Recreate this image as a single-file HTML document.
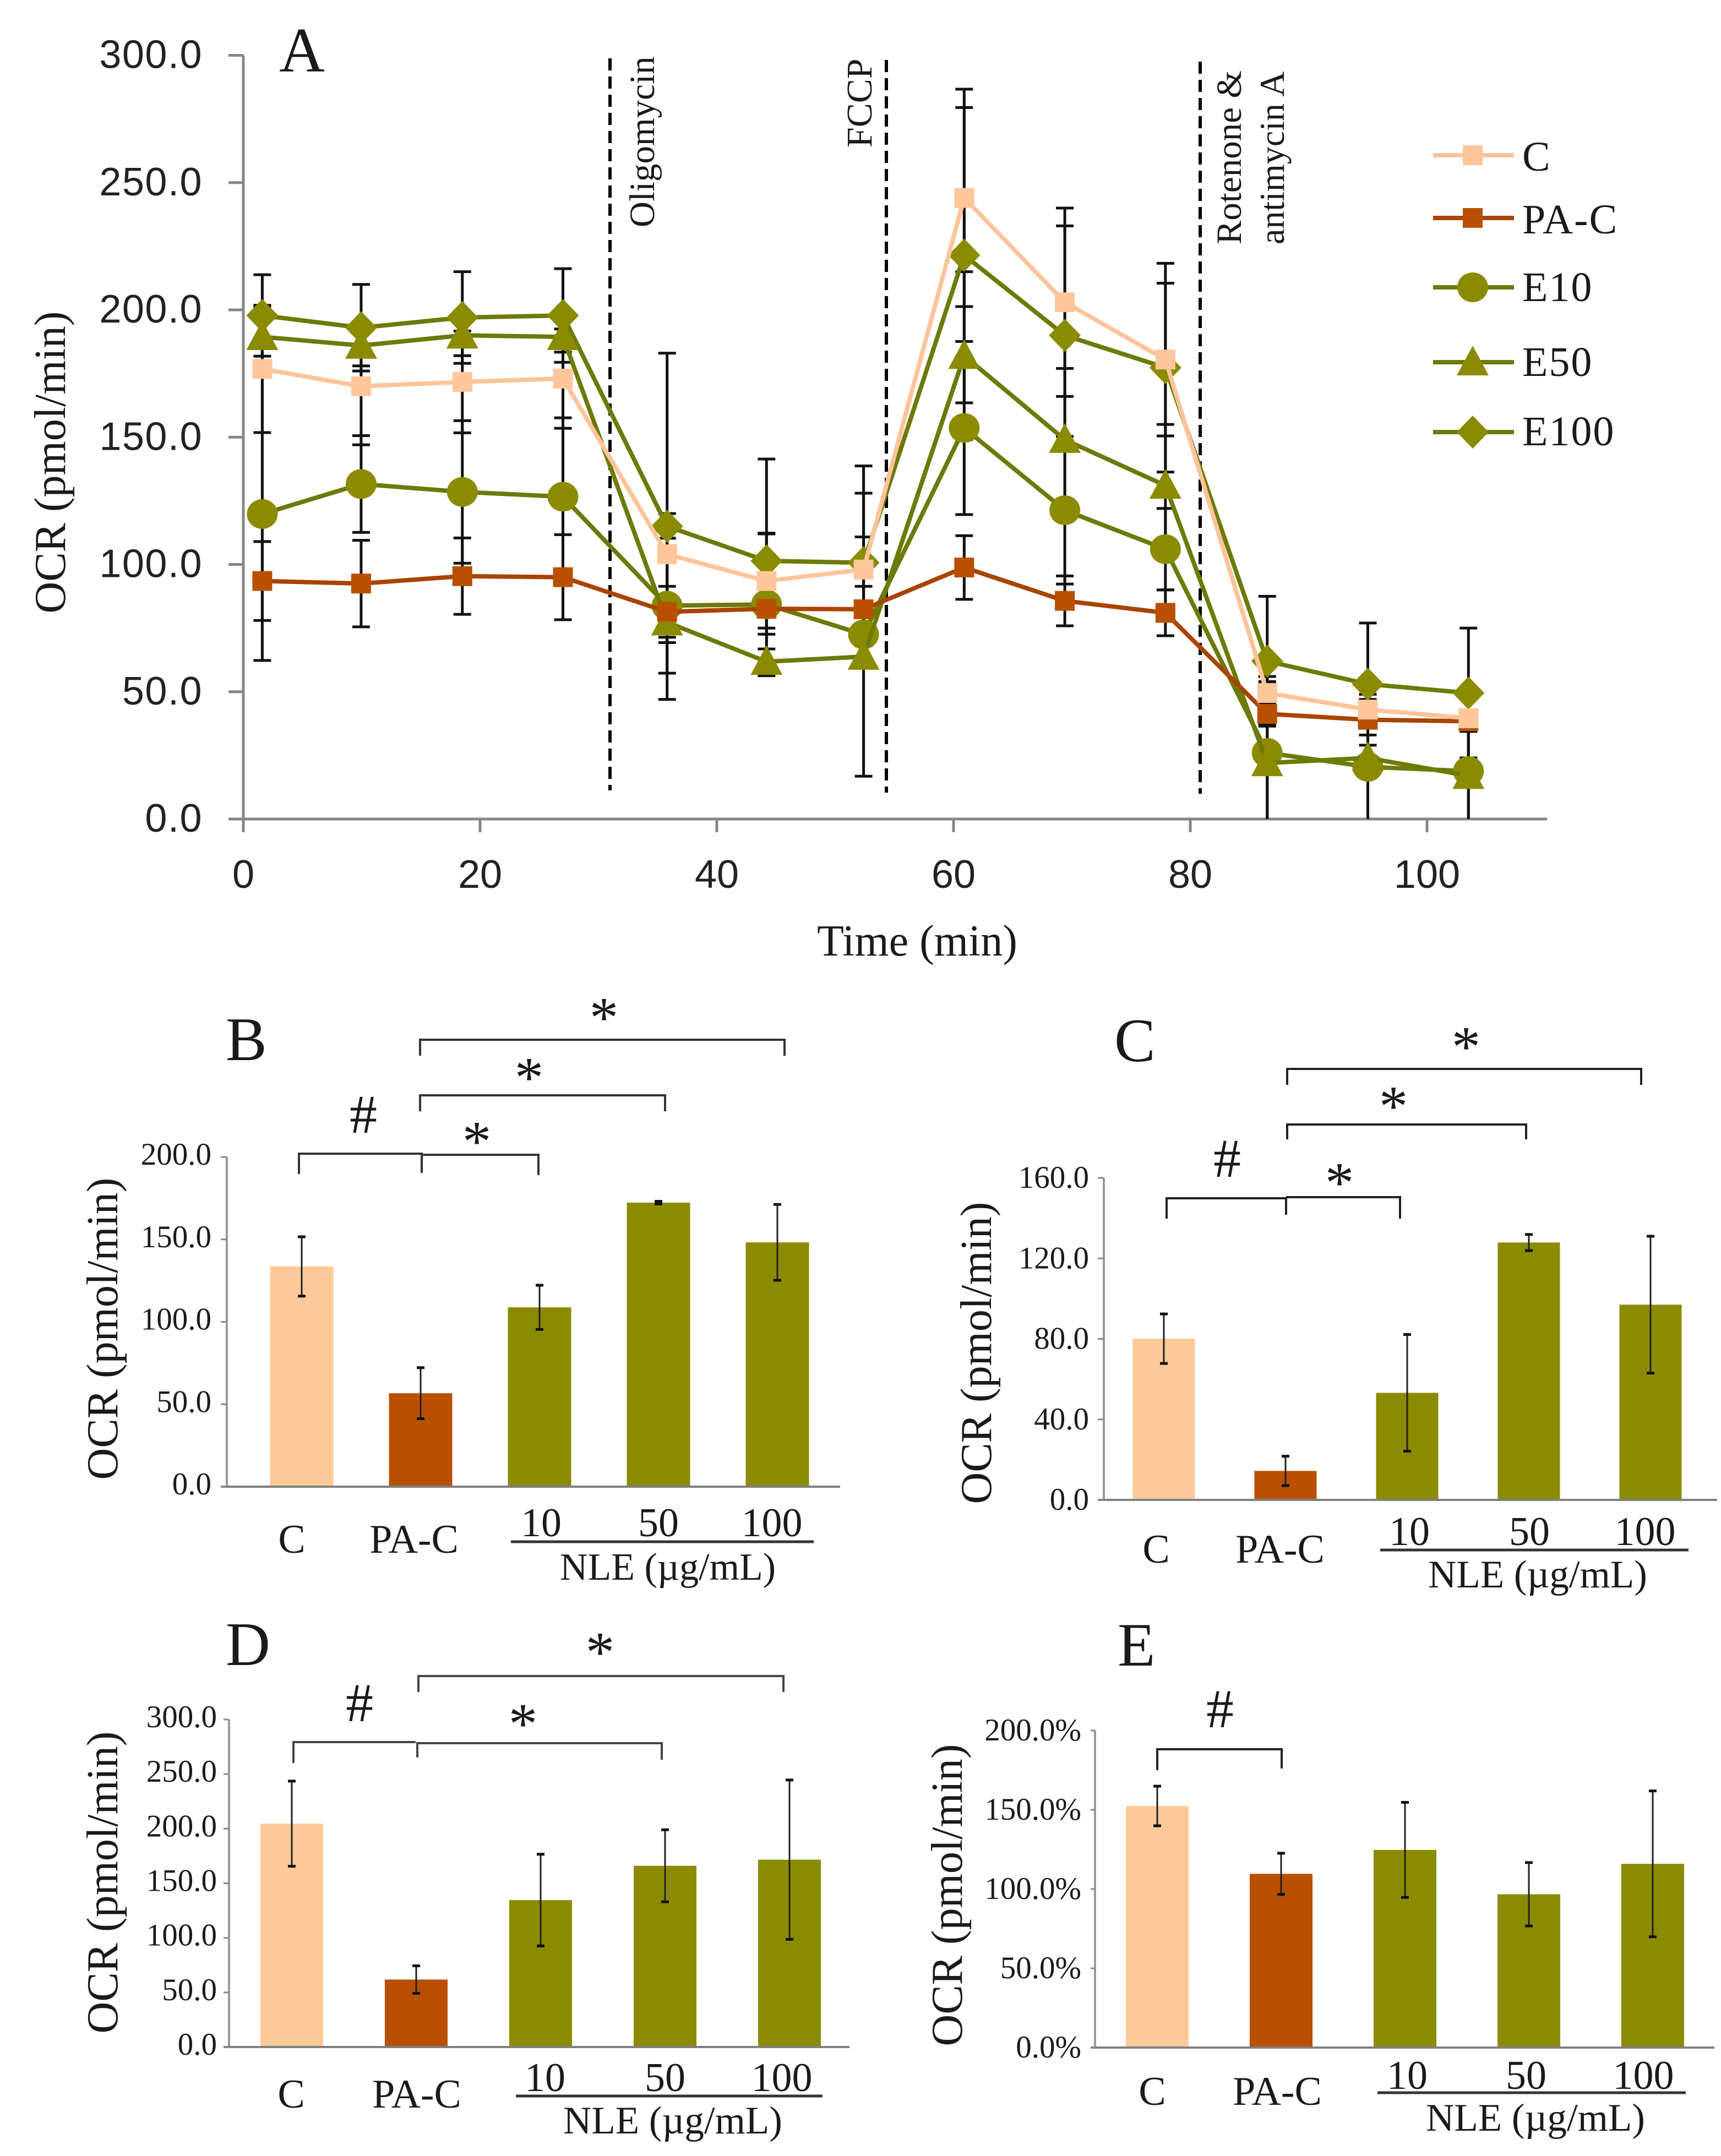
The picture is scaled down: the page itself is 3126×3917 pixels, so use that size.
<!DOCTYPE html>
<html lang="en">
<head>
<meta charset="utf-8">
<title>Oxygen consumption rate figure</title>
<style>
html,body{margin:0;padding:0;background:#fff;}
#figure{display:block;width:3126px;height:3917px;background:#fff;}
.serif{font-family:"Liberation Serif",serif;fill:#1a1a1a;}
.sans{font-family:"Liberation Sans",sans-serif;fill:#222;}
</style>
</head>
<body>
<svg id="figure" xmlns="http://www.w3.org/2000/svg" width="3126" height="3917" viewBox="0 0 3126 3917">
  <rect x="0" y="0" width="3126" height="3917" fill="#fff"/>

  <!-- Panel A static text -->
  <text class="serif" x="507" y="130" font-size="115">A</text>
  <text class="serif" font-size="80" text-anchor="middle" transform="translate(118,840) rotate(-90)">OCR (pmol/min)</text>
  <text class="serif" x="1666" y="1736" font-size="80" text-anchor="middle">Time (min)</text>
  <line x1="1108" y1="106" x2="1108" y2="1436" stroke="#000" stroke-width="6" stroke-dasharray="22 11"/>
  <line x1="1610" y1="109" x2="1610" y2="1440" stroke="#000" stroke-width="6" stroke-dasharray="22 11"/>
  <line x1="2180" y1="112" x2="2180" y2="1442" stroke="#000" stroke-width="6" stroke-dasharray="22 11"/>
  <text class="serif" font-size="65" transform="translate(1188,413) rotate(-90)">Oligomycin</text>
  <text class="serif" font-size="66" transform="translate(1583,268) rotate(-90)">FCCP</text>
  <text class="serif" font-size="65" transform="translate(2254,444) rotate(-90)">Rotenone &amp;</text>
  <text class="serif" font-size="64" transform="translate(2332,444) rotate(-90)">antimycin A</text>

  <!-- Panel B static parts -->
  <text class="serif" x="410" y="1926" font-size="112">B</text>
  <text class="serif" font-size="80" text-anchor="middle" transform="translate(213,2414) rotate(-90)">OCR (pmol/min)</text>
  <g fill="none" stroke="#333" stroke-width="4">
    <path d="M543 2133V2096H766V2131"/>
    <path d="M766 2098H978V2135"/>
    <path d="M763 2019V1990H1208V2019"/>
    <path d="M763 1918V1889H1425V1918"/>
  </g>
  <text class="serif" x="660" y="2058" font-size="100" text-anchor="middle">#</text>
  <text class="serif" x="866" y="2109" font-size="105" text-anchor="middle">*</text>
  <text class="serif" x="961" y="1993" font-size="105" text-anchor="middle">*</text>
  <text class="serif" x="1097" y="1884" font-size="105" text-anchor="middle">*</text>
  <text class="serif" x="530" y="2821" font-size="74" text-anchor="middle">C</text>
  <text class="serif" x="752" y="2821" font-size="74" text-anchor="middle">PA-C</text>
  <text class="serif" x="983" y="2791" font-size="74" text-anchor="middle">10</text>
  <text class="serif" x="1196" y="2791" font-size="74" text-anchor="middle">50</text>
  <text class="serif" x="1402" y="2791" font-size="74" text-anchor="middle">100</text>
  <line x1="928" y1="2801" x2="1478" y2="2801" stroke="#333" stroke-width="5"/>
  <text class="serif" x="1213" y="2870" font-size="70" text-anchor="middle">NLE (µg/mL)</text>

  <!-- Panel C static parts -->
  <text class="serif" x="2024" y="1928" font-size="112">C</text>
  <text class="serif" font-size="80" text-anchor="middle" transform="translate(1800,2458) rotate(-90)">OCR (pmol/min)</text>
  <g fill="none" stroke="#222" stroke-width="4">
    <path d="M2119 2214V2177H2336V2207"/>
    <path d="M2336 2175H2543V2214"/>
    <path d="M2338 2070V2043H2772V2070"/>
    <path d="M2338 1971V1942H2981V1971"/>
  </g>
  <text class="serif" x="2229" y="2138" font-size="100" text-anchor="middle">#</text>
  <text class="serif" x="2433" y="2184" font-size="105" text-anchor="middle">*</text>
  <text class="serif" x="2531" y="2045" font-size="105" text-anchor="middle">*</text>
  <text class="serif" x="2663" y="1937" font-size="105" text-anchor="middle">*</text>
  <text class="serif" x="2100" y="2839" font-size="74" text-anchor="middle">C</text>
  <text class="serif" x="2325" y="2839" font-size="74" text-anchor="middle">PA-C</text>
  <text class="serif" x="2560" y="2807" font-size="74" text-anchor="middle">10</text>
  <text class="serif" x="2778" y="2807" font-size="74" text-anchor="middle">50</text>
  <text class="serif" x="2988" y="2807" font-size="74" text-anchor="middle">100</text>
  <line x1="2507" y1="2816" x2="3067" y2="2816" stroke="#333" stroke-width="5"/>
  <text class="serif" x="2793" y="2884" font-size="71" text-anchor="middle">NLE (µg/mL)</text>

  <!-- Panel D static parts -->
  <text class="serif" x="410" y="3025" font-size="112">D</text>
  <text class="serif" font-size="80" text-anchor="middle" transform="translate(213,3420) rotate(-90)">OCR (pmol/min)</text>
  <g fill="none" stroke="#444" stroke-width="4">
    <path d="M533 3203V3165H755"/>
    <path d="M758 3193V3167H1202V3197"/>
    <path d="M760 3074V3045H1423V3074"/>
  </g>
  <text class="serif" x="653" y="3127" font-size="100" text-anchor="middle">#</text>
  <text class="serif" x="950" y="3167" font-size="105" text-anchor="middle">*</text>
  <text class="serif" x="1090" y="3037" font-size="105" text-anchor="middle">*</text>
  <text class="serif" x="529" y="3829" font-size="74" text-anchor="middle">C</text>
  <text class="serif" x="757" y="3829" font-size="74" text-anchor="middle">PA-C</text>
  <text class="serif" x="990" y="3799" font-size="74" text-anchor="middle">10</text>
  <text class="serif" x="1208" y="3799" font-size="74" text-anchor="middle">50</text>
  <text class="serif" x="1420" y="3799" font-size="74" text-anchor="middle">100</text>
  <line x1="937" y1="3808" x2="1494" y2="3808" stroke="#333" stroke-width="5"/>
  <text class="serif" x="1222" y="3876" font-size="71" text-anchor="middle">NLE (µg/mL)</text>

  <!-- Panel E static parts -->
  <text class="serif" x="2030" y="3026" font-size="112">E</text>
  <text class="serif" font-size="80" text-anchor="middle" transform="translate(1747,3443) rotate(-90)">OCR (pmol/min)</text>
  <path d="M2102 3216V3178H2328V3213" fill="none" stroke="#222" stroke-width="4"/>
  <text class="serif" x="2216" y="3138" font-size="100" text-anchor="middle">#</text>
  <text class="serif" x="2093" y="3824" font-size="74" text-anchor="middle">C</text>
  <text class="serif" x="2320" y="3824" font-size="74" text-anchor="middle">PA-C</text>
  <text class="serif" x="2556" y="3795" font-size="74" text-anchor="middle">10</text>
  <text class="serif" x="2772" y="3795" font-size="74" text-anchor="middle">50</text>
  <text class="serif" x="2985" y="3795" font-size="74" text-anchor="middle">100</text>
  <line x1="2502" y1="3802" x2="3062" y2="3802" stroke="#333" stroke-width="5"/>
  <text class="serif" x="2789" y="3871" font-size="71" text-anchor="middle">NLE (µg/mL)</text>
</svg>

<script>
// ---- Panel A data ----
const timePoints = [1.6, 9.95, 18.5, 27, 35.8, 44.2, 52.4, 60.9, 69.4, 77.9, 86.5, 95, 103.5];
const lineYTicks = [0, 50, 100, 150, 200, 250, 300];
const lineYTickLabels = ['0.0', '50.0', '100.0', '150.0', '200.0', '250.0', '300.0'];
const lineXTicks = [0, 20, 40, 60, 80, 100];
const seriesNames = ['C', 'PA-C', 'E10', 'E50', 'E100'];
const valuesC = [176.8, 170, 171.7, 173, 104, 93.5, 98, 244, 203, 180.5, 49.5, 43, 39.6];
const valuesPA = [93.5, 92.5, 95.4, 95, 81.4, 82.6, 82.4, 98.8, 85.7, 81, 41.3, 39, 38.4];
const valuesE10 = [119.8, 131.6, 128.5, 126.6, 83.8, 84.3, 72.5, 153.6, 121.3, 106, 26, 20.5, 18.8];
const valuesE50 = [189.4, 186, 190, 189.4, 77.3, 61.8, 63.8, 182, 149, 131, 22, 24, 17];
const valuesE100 = [197.8, 193, 197, 197.8, 115, 101.4, 100.7, 221.5, 190, 177.3, 62, 53, 49.5];
const errorsC = [25, 23, 20, 19.5, 16, 18.5, 30, 42.7, 37, 30, 4, 4, 3];
const errorsPA = [15.5, 17, 15, 16.7, 10, 10, 9, 12.5, 9.8, 9, 4, 6, 4];
const errorsE10 = [57.5, 19, 28, 31, 26.5, 28, 10, 34, 29, 16, 30, 21, 20];
const errorsE50 = [12, 8, 8, 6, 8, 5, 47, 33, 28, 24, 32, 25, 18];
const errorsE100 = [16, 17, 18, 18.4, 68, 40, 38, 58, 43, 41, 25.5, 24, 25.5];

// ---- Bar panel data ----
const barCategories = ['C', 'PA-C', '10', '50', '100'];
const panelBValues = [133.6, 56.7, 108.8, 172.3, 148.2];
const panelBErrors = [18, 15.5, 13.4, 0.8, 23];
const panelBTicks = [0, 50, 100, 150, 200];
const panelBTickLabels = ['0.0', '50.0', '100.0', '150.0', '200.0'];
const panelCValues = [80.1, 14.4, 53.2, 127.9, 97];
const panelCErrors = [12.3, 7.3, 29, 4, 34];
const panelCTicks = [0, 40, 80, 120, 160];
const panelCTickLabels = ['0.0', '40.0', '80.0', '120.0', '160.0'];
const panelDValues = [204.6, 61.8, 134.6, 166, 171.6];
const panelDErrors = [39, 12.6, 42, 33, 73];
const panelDTicks = [0, 50, 100, 150, 200, 250, 300];
const panelDTickLabels = ['0.0', '50.0', '100.0', '150.0', '200.0', '250.0', '300.0'];
const panelEValues = [152.4, 109.6, 124.7, 96.7, 115.9];
const panelEErrors = [12.5, 13, 30, 20, 46];
const panelETicks = [0, 50, 100, 150, 200];
const panelETickLabels = ['0.0%', '50.0%', '100.0%', '150.0%', '200.0%'];

const PEACH = '#fcca99';
const RUST = '#b85000';
const OLIVE = '#8b8b00';
const OLIVE_LINE = '#6c7a08';
const svg = document.getElementById('figure');
const NS = 'http://www.w3.org/2000/svg';

function make(tag, parent, attrs, label) {
  const node = document.createElementNS(NS, tag);
  Object.keys(attrs).forEach(function (k) { node.setAttribute(k, attrs[k]); });
  if (label !== undefined) node.textContent = label;
  parent.appendChild(node);
  return node;
}

function drawMarker(parent, shape, cx, cy, fill) {
  let m;
  if (shape === 'square') {
    m = make('rect', parent, { x: cx - 18, y: cy - 18, width: 36, height: 36, fill: fill });
  } else if (shape === 'circle') {
    m = make('ellipse', parent, { cx: cx, cy: cy, rx: 28, ry: 27, fill: fill });
  } else if (shape === 'triangle') {
    m = make('polygon', parent, { points: (cx - 29) + ',' + (cy + 24) + ' ' + (cx + 29) + ',' + (cy + 24) + ' ' + cx + ',' + (cy - 30), fill: fill });
  } else {
    m = make('polygon', parent, { points: (cx - 29) + ',' + cy + ' ' + cx + ',' + (cy - 30) + ' ' + (cx + 29) + ',' + cy + ' ' + cx + ',' + (cy + 30), fill: fill });
  }
  return m;
}

// ---- Panel A ----
const lineX = function (t) { return 442 + t * 21.5; };
const lineY = function (v) { return 1488 - v * 4.625; };

const axesA = make('g', svg, { stroke: '#868686', 'stroke-width': 5 });


const yAxisA = make('line', axesA, { x1: lineX(0), x2: lineX(0), y1: lineY(300), y2: lineY(0) });


const xAxisA = make('line', axesA, { x1: 415, x2: 2810, y1: lineY(0), y2: lineY(0) });



lineYTicks.forEach(function (v, i) {
  const tick = make('line', axesA, { x1: 415, x2: lineX(0), y1: lineY(v), y2: lineY(v) });
  
  
  const lab = make('text', svg, { class: 'sans', x: 368, y: lineY(v) + 23, 'font-size': 72, 'letter-spacing': 1.5, 'text-anchor': 'end' }, lineYTickLabels[i]);
  
  
});
lineXTicks.forEach(function (t) {
  const tick = make('line', axesA, { x1: lineX(t), x2: lineX(t), y1: lineY(0), y2: lineY(0) + 24 });
  
  
  const lab = make('text', svg, { class: 'sans', x: lineX(t), y: 1613, 'font-size': 72, 'text-anchor': 'middle' }, String(t));
  
  
});

const lineSeries = [
  { name: 'E100', values: valuesE100, errors: errorsE100, shape: 'diamond', fill: OLIVE, line: OLIVE_LINE },
  { name: 'E10', values: valuesE10, errors: errorsE10, shape: 'circle', fill: OLIVE, line: OLIVE_LINE },
  { name: 'E50', values: valuesE50, errors: errorsE50, shape: 'triangle', fill: OLIVE, line: OLIVE_LINE },
  { name: 'PA-C', values: valuesPA, errors: errorsPA, shape: 'square', fill: RUST, line: '#a84400' },
  { name: 'C', values: valuesC, errors: errorsC, shape: 'square', fill: '#fdc79b', line: '#fdc49b' }
];

const errLayer = make('g', svg, { stroke: '#111', 'stroke-width': 5 });


lineSeries.forEach(function (s) {
  s.values.forEach(function (v, i) {
    const x = lineX(timePoints[i]);
    const top = lineY(v + s.errors[i]);
    const rawLow = v - s.errors[i];
    const low = lineY(Math.max(0, rawLow));
    const stem = make('line', errLayer, { x1: x, x2: x, y1: top, y2: low });
    
    
    const capTop = make('line', errLayer, { x1: x - 16, x2: x + 16, y1: top, y2: top });
    
    
    if (rawLow > 0) {
      const capLow = make('line', errLayer, { x1: x - 16, x2: x + 16, y1: low, y2: low });
      
      
    }
  });
});

lineSeries.forEach(function (s) {
  const group = make('g', svg, {});
  
  
  const pts = s.values.map(function (v, i) { return lineX(timePoints[i]) + ',' + lineY(v); }).join(' ');
  const path = make('polyline', group, { points: pts, fill: 'none', stroke: s.line, 'stroke-width': 8, 'stroke-linejoin': 'round' });
  
  
  s.values.forEach(function (v, i) {
    const m = drawMarker(group, s.shape, lineX(timePoints[i]), lineY(v), s.fill);
    
    
  });
});

// ---- Legend ----
const legendShapes = ['square', 'square', 'circle', 'triangle', 'diamond'];
const legendFills = ['#fdc79b', RUST, OLIVE, OLIVE, OLIVE];
const legendLines = ['#fdc49b', '#a84400', OLIVE_LINE, OLIVE_LINE, OLIVE_LINE];
const legendRows = [282, 396, 522, 658, 785];
const legendBase = [310, 424, 547, 683, 809];
const legend = make('g', svg, {});


seriesNames.forEach(function (name, i) {
  const entry = make('g', legend, {});
  
  
  const key = make('line', entry, { x1: 2603, x2: 2750, y1: legendRows[i], y2: legendRows[i], stroke: legendLines[i], 'stroke-width': 8 });
  
  
  const mark = drawMarker(entry, legendShapes[i], 2675, legendRows[i], legendFills[i]);
  
  
  const txt = make('text', entry, { class: 'serif', x: 2765, y: legendBase[i], 'font-size': 76, 'letter-spacing': 2 }, name);
  
  
});

// ---- Bar panels ----
const barFills = [PEACH, RUST, OLIVE, OLIVE, OLIVE];

function drawBarPanel(key, g, values, errors, ticks, tickLabels) {
  const yScale = function (v) { return g.y0 - (v / ticks[ticks.length - 1]) * (g.y0 - g.yTop); };
  const xBand = function (i) { return g.firstCenter + i * g.step; };
  const group = make('g', svg, {});
  
  

  values.forEach(function (v, i) {
    const bar = make('rect', group, { x: xBand(i) - g.barWidth / 2, y: yScale(v), width: g.barWidth, height: g.y0 - yScale(v), fill: barFills[i] });
    
    
  });

  const axisYLine = make('line', group, { x1: g.axisX, x2: g.axisX, y1: g.yTop, y2: g.y0, stroke: '#999', 'stroke-width': 4 });
  
  
  const axisXLine = make('line', group, { x1: g.tickLeft, x2: g.axisRight, y1: g.y0, y2: g.y0, stroke: '#808080', 'stroke-width': 4 });
  
  

  ticks.forEach(function (t, i) {
    const tick = make('line', group, { x1: g.tickLeft, x2: g.axisX, y1: yScale(t), y2: yScale(t), stroke: '#888', 'stroke-width': 3 });
    
    
    const lab = make('text', group, { class: 'serif', x: g.labelRight, y: yScale(t) + g.labelDy, 'font-size': 57, 'text-anchor': 'end' }, tickLabels[i]);
    
    
  });

  values.forEach(function (v, i) {
    const x = xBand(i);
    const top = yScale(v + errors[i]);
    const low = yScale(v - errors[i]);
    const stem = make('line', group, { x1: x, x2: x, y1: top, y2: low, stroke: '#222', 'stroke-width': 3 });
    
    
    const capA = make('line', group, { x1: x - 7, x2: x + 7, y1: top, y2: top, stroke: '#111', 'stroke-width': 5 });
    
    
    const capB = make('line', group, { x1: x - 7, x2: x + 7, y1: low, y2: low, stroke: '#111', 'stroke-width': 5 });
    
    
  });
}

drawBarPanel('b', { axisX: 412, axisRight: 1526, tickLeft: 401, y0: 2701, yTop: 2102, firstCenter: 548, step: 216, barWidth: 115, labelRight: 384, labelDy: 14 }, panelBValues, panelBErrors, panelBTicks, panelBTickLabels);
drawBarPanel('c', { axisX: 2005, axisRight: 3119, tickLeft: 1994, y0: 2725, yTop: 2140, firstCenter: 2114, step: 221, barWidth: 113, labelRight: 1978, labelDy: 18 }, panelCValues, panelCErrors, panelCTicks, panelCTickLabels);
drawBarPanel('d', { axisX: 416, axisRight: 1543, tickLeft: 406, y0: 3719, yTop: 3124, firstCenter: 530, step: 226, barWidth: 114, labelRight: 394, labelDy: 14 }, panelDValues, panelDErrors, panelDTicks, panelDTickLabels);
drawBarPanel('e', { axisX: 1989, axisRight: 3114, tickLeft: 1981, y0: 3720, yTop: 3144, firstCenter: 2102, step: 225, barWidth: 114, labelRight: 1964, labelDy: 18 }, panelEValues, panelEErrors, panelETicks, panelETickLabels);
</script>
</body>
</html>
